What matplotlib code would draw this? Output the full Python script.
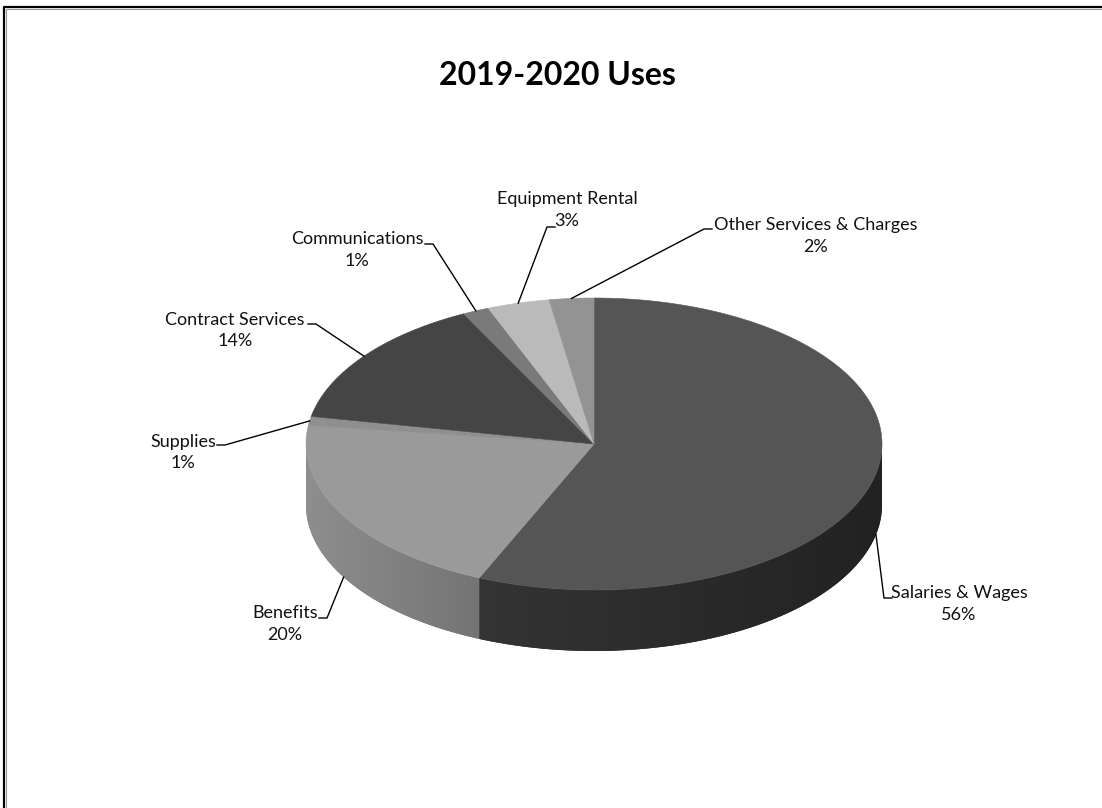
import numpy as np
import matplotlib.pyplot as plt
from matplotlib.patches import Polygon
from matplotlib.colors import LinearSegmentedColormap

plt.rcParams['font.family'] = ['Lato', 'DejaVu Sans']

title = "2019-2020 Uses"
categories = ["Salaries & Wages", "Benefits", "Supplies", "Contract Services",
              "Communications", "Equipment Rental", "Other Services & Charges"]
shares = [56.49, 20.49, 1.0, 14.49, 1.49, 3.49, 2.49]   # percent of total uses

# greys for the top face and for the (left, right) ends of the front wall
top_colors = ["#555555", "#9a9a9a", "#8f8f8f", "#454545", "#7a7a7a", "#bababa", "#939393"]
wall_colors = [("#343434", "#222222"), ("#8e8e8e", "#747474"), ("#7a7a7a", "#6a6a6a"),
               ("#3a3a3a", "#303030"), ("#6a6a6a", "#606060"), ("#a0a0a0", "#909090"),
               ("#808080", "#777777")]

# label placement: (x centre, first baseline) and where the leader meets the text
label_pos = [(959, 598), (285, 618), (183, 447), (235, 325), (357, 244), (567, 204), (816, 230)]
tick_pos = [(892, 598), (319, 618), (217, 445), (308, 324), (425, 244), (555, 227), (712, 229)]

# pie geometry in pixels (y grows downward)
cx, cy = 594, 444
ra, rb = 288, 146
depth = 61


def rim(t, drop=0.0):
    t = np.radians(t)
    return cx + ra * np.sin(t), cy - rb * np.cos(t) + drop


fig = plt.figure(figsize=(11.02, 8.08), dpi=100)
ax = fig.add_axes([0, 0, 1, 1])
ax.set_xlim(0, 1102)
ax.set_ylim(808, 0)
ax.axis('off')

total = sum(shares)
bounds = np.concatenate([[0], np.cumsum(shares) / total * 360])

# front wall of the disc
for i in range(len(shares)):
    t0, t1 = max(bounds[i], 90), min(bounds[i + 1], 270)
    if t1 <= t0:
        continue
    ts = np.linspace(t0, t1, 120)
    xs, ys = rim(ts)
    xb, yb = rim(ts[::-1], depth)
    pts = np.column_stack([np.concatenate([xs, xb]), np.concatenate([ys, yb])])
    wall = Polygon(pts, closed=True, facecolor=wall_colors[i][1], edgecolor='none')
    ax.add_patch(wall)
    cmap = LinearSegmentedColormap.from_list("wall%d" % i, wall_colors[i])
    x_lo, x_hi = pts[:, 0].min(), pts[:, 0].max()
    y_lo, y_hi = pts[:, 1].min(), pts[:, 1].max()
    grad = np.linspace(0, 1, 256).reshape(1, -1)
    im = ax.imshow(grad, cmap=cmap, extent=(x_lo, x_hi, y_hi, y_lo), aspect='auto',
                   interpolation='bilinear', zorder=2)
    im.set_clip_path(wall)

# top face
for i in range(len(shares)):
    ts = np.linspace(bounds[i], bounds[i + 1], max(int(bounds[i + 1] - bounds[i]) * 2, 8))
    xs, ys = rim(ts)
    pts = np.column_stack([np.concatenate([[cx], xs]), np.concatenate([[cy], ys])])
    ax.add_patch(Polygon(pts, closed=True, facecolor=top_colors[i],
                         edgecolor=top_colors[i], linewidth=0.4, zorder=3))

# labels with leader lines
for i, name in enumerate(categories):
    mid = (bounds[i] + bounds[i + 1]) / 2
    px, py = rim(mid, depth if 90 < mid < 270 else 0)
    tx, ty = tick_pos[i]
    elbow = tx + 8 * np.sign(px - tx)
    ax.plot([px, elbow, tx], [py, ty, ty], color='black', lw=1.0, zorder=4)
    lx, ly = label_pos[i]
    ax.text(lx, ly, name, ha='center', va='baseline', fontsize=13, color='#111111')
    ax.text(lx, ly + 21.5, "%.0f%%" % shares[i], ha='center', va='baseline',
            fontsize=13, color='#111111')

ax.text(557, 85, title, ha='center', va='baseline', fontsize=23,
        fontweight='bold', color='black')

# chart frame (only the top and left edges fall inside the image)
ax.plot([4, 4, 1102], [808, 7, 7], color='black', lw=1.6, clip_on=False, zorder=5)
ax.plot([5.8, 5.8, 1102], [808, 8.8, 8.8], color='#999999', lw=0.8, clip_on=False, zorder=5)

fig.savefig("out.png", dpi=100)
